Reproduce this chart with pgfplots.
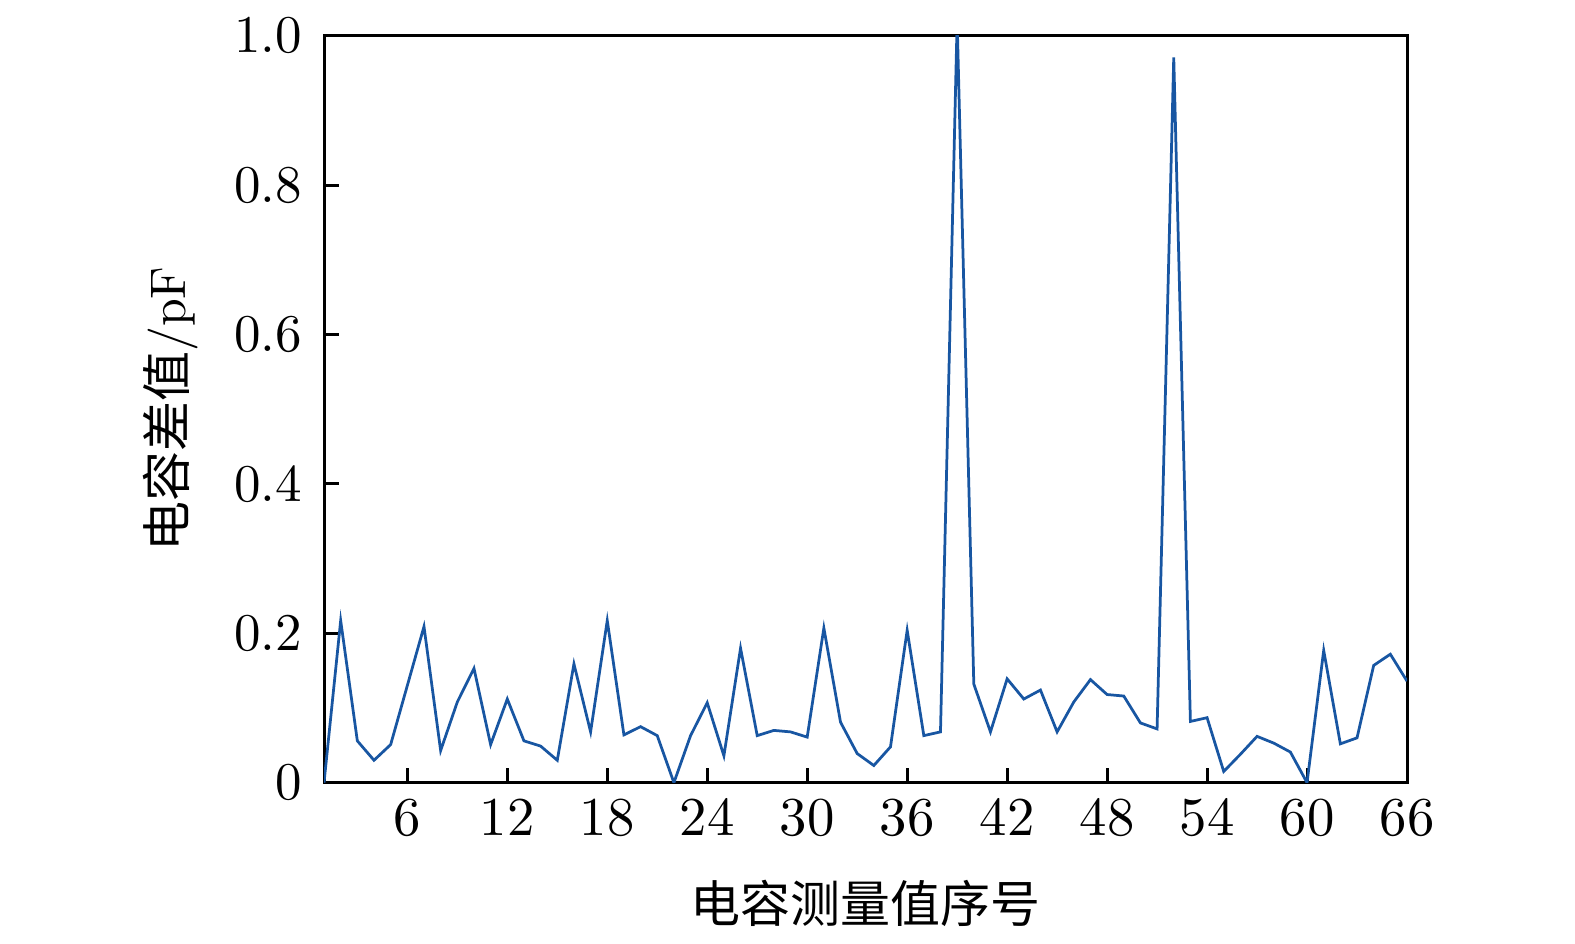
\documentclass[border=0pt]{standalone}
\usepackage{fontspec}
\usepackage{pgfplots}
\pgfplotsset{compat=1.18}
\newfontfamily\cjk{Noto Sans CJK SC}
\definecolor{lineblue}{RGB}{24,86,162}

\begin{document}
\begin{tikzpicture}
\begin{axis}[
    scale only axis,
    width=216.6pt,
    height=149.4pt,
    xmin=1, xmax=66,
    ymin=0, ymax=1,
    xtick={6,12,...,66},
    ytick={0,0.2,0.4,0.6,0.8,1.0},
    yticklabels={0,0.2,0.4,0.6,0.8,1.0},
    xtick pos=bottom,
    ytick pos=left,
    tick align=inside,
    major tick length=3pt,
    axis line style={line width=0.6pt},
    every tick/.style={line width=0.6pt, black},
    tick label style={font=\fontsize{10.6}{12}\selectfont},
    yticklabel style={xshift=-0.9pt},
    xlabel={\cjk 电容测量值序号},
    ylabel={{\cjk 电容差值}/pF},
    xlabel style={yshift=-2pt},
    ylabel style={yshift=0.3pt},
]
\addplot[color=lineblue, line width=0.55pt, mark=none] coordinates {
(1,0) (2,0.217) (3,0.056) (4,0.030) (5,0.051) (6,0.130) (7,0.209) (8,0.043)
(9,0.108) (10,0.153) (11,0.051) (12,0.112) (13,0.056) (14,0.049) (15,0.030)
(16,0.159) (17,0.068) (18,0.217) (19,0.064) (20,0.075) (21,0.063) (22,0.0)
(23,0.063) (24,0.107) (25,0.036) (26,0.180) (27,0.063) (28,0.070) (29,0.068)
(30,0.061) (31,0.207) (32,0.081) (33,0.039) (34,0.023) (35,0.048) (36,0.204)
(37,0.063) (38,0.068) (39,1.02) (40,0.132) (41,0.068) (42,0.139) (43,0.112)
(44,0.124) (45,0.068) (46,0.108) (47,0.138) (48,0.118) (49,0.116) (50,0.080)
(51,0.072) (52,0.971) (53,0.082) (54,0.087) (55,0.015) (56,0.038) (57,0.062)
(58,0.053) (59,0.041) (60,0) (61,0.177) (62,0.052) (63,0.060) (64,0.157)
(65,0.172) (66,0.136)
};
\coordinate (bbl) at (rel axis cs:-0.2992,-0.2119);
\coordinate (btr) at (rel axis cs:1.1551,1.0478);
\end{axis}
\path (bbl) rectangle (btr);
\end{tikzpicture}
\end{document}
